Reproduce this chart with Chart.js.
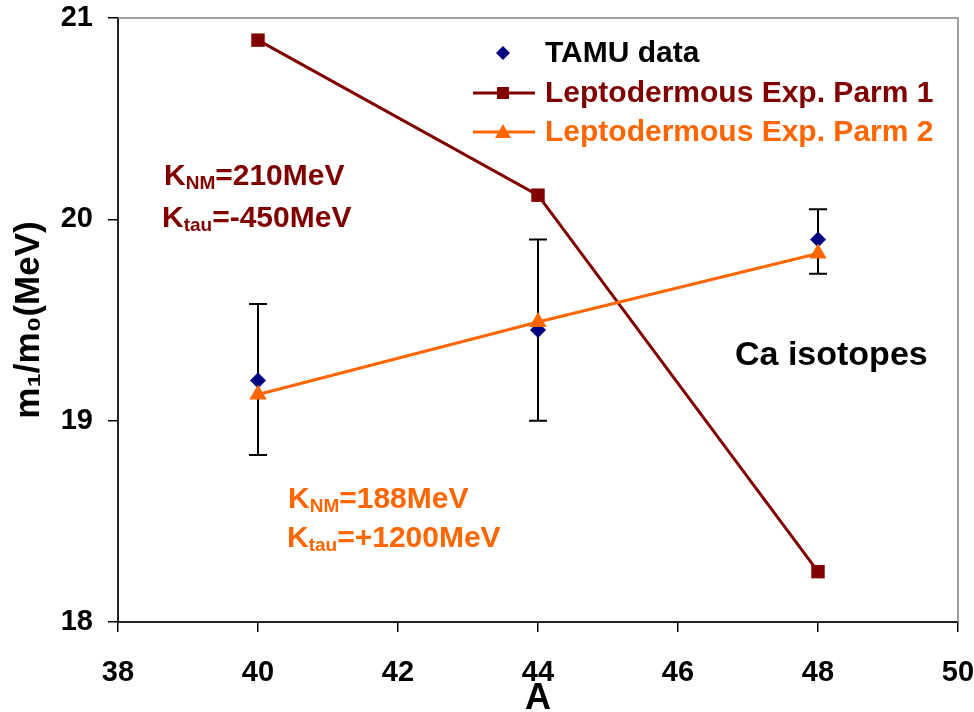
<!DOCTYPE html>
<html><head><meta charset="utf-8">
<script src="https://cdn.jsdelivr.net/npm/chart.js@4.4.0/dist/chart.umd.min.js"></script>
<style>html,body{margin:0;padding:0;background:#fff;}#wrap{width:974px;height:712px;}</style>
</head><body><div id="wrap"><canvas id="c" width="974" height="712"></canvas></div>
<script>
// ---- data ----
const massNumbers = [40, 44, 48];
const tamuData = [19.20, 19.45, 19.90];
const tamuErrPlus = [0.38, 0.45, 0.15];
const tamuErrMinus = [0.37, 0.45, 0.17];
const parm1Values = [20.89, 20.12, 18.25];
const parm2Values = [19.13, 19.49, 19.83];
const xTickValues = [38, 40, 42, 44, 46, 48, 50];
const yTickValues = [18, 19, 20, 21];
const seriesNames = ['TAMU data', 'Leptodermous Exp. Parm 1', 'Leptodermous Exp. Parm 2'];

const C_NAVY = '#000080', C_RED = '#800000', C_ORANGE = '#FF6600';
const FONT = '"Liberation Sans", Arial, sans-serif';

const pts = (vals) => massNumbers.map((x, i) => ({x: x, y: vals[i]}));

const frameAndErrors = {
  id: 'frameAndErrors',
  beforeDatasetsDraw(chart) {
    const {ctx, chartArea: a, scales: {x, y}} = chart;
    ctx.save();
    ctx.strokeStyle = '#808080'; ctx.lineWidth = 1.5;
    ctx.beginPath();
    ctx.moveTo(a.left, a.top); ctx.lineTo(a.right, a.top); ctx.lineTo(a.right, a.bottom);
    ctx.stroke();
    ctx.strokeStyle = '#000'; ctx.lineWidth = 2;
    massNumbers.forEach((m, i) => {
      const px = x.getPixelForValue(m);
      const yt = y.getPixelForValue(tamuData[i] + tamuErrPlus[i]);
      const yb = y.getPixelForValue(tamuData[i] - tamuErrMinus[i]);
      ctx.beginPath();
      ctx.moveTo(px, yt); ctx.lineTo(px, yb);
      ctx.moveTo(px - 9, yt); ctx.lineTo(px + 9, yt);
      ctx.moveTo(px - 9, yb); ctx.lineTo(px + 9, yb);
      ctx.stroke();
    });
    ctx.restore();
  }
};

function drawSubText(ctx, x, y, main, sub, rest, color) {
  ctx.fillStyle = color;
  ctx.textBaseline = 'alphabetic';
  ctx.textAlign = 'left';
  ctx.font = 'bold 30px ' + FONT;
  ctx.fillText(main, x, y);
  let cx = x + ctx.measureText(main).width;
  ctx.font = 'bold 19px ' + FONT;
  ctx.fillText(sub, cx, y + 4);
  cx += ctx.measureText(sub).width;
  ctx.font = 'bold 30px ' + FONT;
  ctx.fillText(rest, cx, y);
}

const overlay = {
  id: 'overlay',
  afterDraw(chart) {
    const ctx = chart.ctx;
    ctx.save();
    // legend
    const lx = 503, tx = 545;
    const rows = [53, 93, 132];
    ctx.fillStyle = C_NAVY;
    ctx.beginPath();
    ctx.moveTo(lx, rows[0] - 7); ctx.lineTo(lx + 7, rows[0]); ctx.lineTo(lx, rows[0] + 7); ctx.lineTo(lx - 7, rows[0]);
    ctx.closePath(); ctx.fill();
    ctx.strokeStyle = C_RED; ctx.lineWidth = 3;
    ctx.beginPath(); ctx.moveTo(473, rows[1]); ctx.lineTo(535, rows[1]); ctx.stroke();
    ctx.fillStyle = C_RED; ctx.fillRect(lx - 6, rows[1] - 6, 12, 12);
    ctx.strokeStyle = C_ORANGE;
    ctx.beginPath(); ctx.moveTo(473, rows[2]); ctx.lineTo(535, rows[2]); ctx.stroke();
    ctx.fillStyle = C_ORANGE;
    ctx.beginPath(); ctx.moveTo(lx, rows[2] - 8); ctx.lineTo(lx + 8, rows[2] + 6); ctx.lineTo(lx - 8, rows[2] + 6); ctx.closePath(); ctx.fill();
    ctx.font = 'bold 30px ' + FONT;
    ctx.textBaseline = 'middle'; ctx.textAlign = 'left';
    const colors = ['#000', C_RED, C_ORANGE];
    seriesNames.forEach((n, i) => { ctx.fillStyle = colors[i]; ctx.fillText(n, tx, rows[i] + 1); });
    // annotations
    drawSubText(ctx, 164, 185, 'K', 'NM', '=210MeV', C_RED);
    drawSubText(ctx, 162, 227, 'K', 'tau', '=-450MeV', C_RED);
    drawSubText(ctx, 288, 508, 'K', 'NM', '=188MeV', C_ORANGE);
    drawSubText(ctx, 287, 547, 'K', 'tau', '=+1200MeV', C_ORANGE);
    ctx.fillStyle = '#000'; ctx.font = 'bold 34px ' + FONT;
    ctx.textBaseline = 'alphabetic';
    ctx.fillText('Ca isotopes', 735, 365);
    ctx.restore();
  }
};

function zeroPad(s) { s.paddingLeft = 0; s.paddingRight = 0; s.paddingTop = 0; s.paddingBottom = 0; }

new Chart(document.getElementById('c'), {
  type: 'scatter',
  data: {
    datasets: [
      {label: seriesNames[0], data: pts(tamuData), showLine: false, order: 3,
       pointStyle: 'rectRot', pointRadius: 8, pointHoverRadius: 8,
       backgroundColor: C_NAVY, borderColor: C_NAVY, borderWidth: 0},
      {label: seriesNames[1], data: pts(parm1Values), showLine: true, order: 2,
       pointStyle: 'rect', pointRadius: 9.5, pointHoverRadius: 9.5,
       backgroundColor: C_RED, borderColor: C_RED, borderWidth: 3, pointBorderWidth: 0},
      {label: seriesNames[2], data: pts(parm2Values), showLine: true, order: 1,
       pointStyle: 'triangle', pointRadius: 10, pointHoverRadius: 10,
       backgroundColor: C_ORANGE, borderColor: C_ORANGE, borderWidth: 3, pointBorderWidth: 0}
    ]
  },
  options: {
    responsive: false, animation: false, devicePixelRatio: 1,
    layout: {autoPadding: false, padding: {left: 0, right: 16, top: 18, bottom: 0}},
    plugins: {legend: {display: false}, tooltip: {enabled: false}},
    scales: {
      x: {
        type: 'linear', min: 38, max: 50,
        afterBuildTicks: (s) => { s.ticks = xTickValues.map(v => ({value: v})); },
        afterFit: (s) => { s.height = 90; zeroPad(s); },
        grid: {display: true, drawOnChartArea: false, drawTicks: true, tickLength: 10, color: '#000', lineWidth: 1.5},
        border: {display: true, color: '#222', width: 2},
        ticks: {color: '#000', padding: 24, font: {family: FONT, size: 29, weight: 'bold'}},
        title: {display: true, text: 'A', color: '#000', padding: {top: 0, bottom: -9}, font: {family: FONT, size: 36, weight: 'bold'}}
      },
      y: {
        type: 'linear', min: 18, max: 21,
        afterBuildTicks: (s) => { s.ticks = yTickValues.map(v => ({value: v})); },
        afterFit: (s) => { s.width = 118; zeroPad(s); },
        grid: {display: true, drawOnChartArea: false, drawTicks: true, tickLength: 10, color: '#000', lineWidth: 1.5},
        border: {display: true, color: '#222', width: 2},
        ticks: {color: '#000', padding: 15, font: {family: FONT, size: 29, weight: 'bold'}},
        title: {display: true, text: 'm₁/m₀(MeV)', color: '#000', padding: {top: 8, bottom: 0}, font: {family: FONT, size: 35, weight: 'bold'}}
      }
    }
  },
  plugins: [frameAndErrors, overlay]
});
</script></body></html>
